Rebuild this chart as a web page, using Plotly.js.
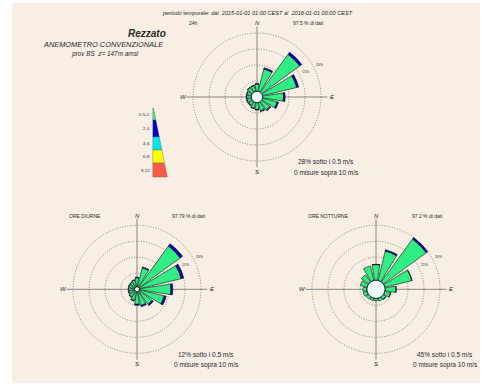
<!DOCTYPE html>
<html>
<head>
<meta charset="utf-8">
<script src="https://cdn.plot.ly/plotly-3.0.1.min.js"></script>
<style>html,body{margin:0;padding:0;background:#fff;}#chart{width:488px;height:387px;}</style>
</head>
<body>
<div id="chart"></div>
<script>
// ---------- DATA ----------
const sectorNames = ['N','NNE','NE','ENE','E','ESE','SE','SSE','S','SSW','SW','WSW','W','WNW','NW','NNW'];
const sectorDeg = [0,22.5,45,67.5,90,112.5,135,157.5,180,202.5,225,247.5,270,292.5,315,337.5];
const speedClasses = ['0.5-2','2-4','4-6','6-8','8-12'];
const classColors = ['#30ee84','#0000c0','#00e6f0','#ffff00','#f65c46'];

// rose 24h
const calm24 = 28;
const r24_c1 = [2.30,7.25,14.75,11.00,6.55,4.70,3.25,2.70,2.15,1.85,1.50,1.50,1.50,1.55,1.90,1.90];
const r24_c2 = [0.15,0.40,0.80,0.65,0.50,0.45,0.30,0.25,0.20,0.20,0.15,0.15,0.15,0.10,0.15,0.15];
// rose ore diurne
const calmDay = 12;
const rDay_c1 = [2.85,6.15,15.95,13.45,9.85,8.00,5.10,4.45,3.95,2.85,2.20,1.90,1.90,1.95,1.95,2.20];
const rDay_c2 = [0.20,0.30,0.90,0.80,0.60,0.65,0.45,0.40,0.30,0.20,0.15,0.15,0.15,0.10,0.10,0.15];
// rose ore notturne
const calmNight = 45;
const rNight_c1 = [4.90,9.50,16.60,8.70,3.45,1.85,1.05,0.95,0.80,0.80,0.95,1.30,1.30,2.20,2.80,4.70];
const rNight_c2 = [0.10,0.40,0.60,0.10,0.05,0.05,0.05,0,0,0,0,0,0,0,0,0];

const ringVals = [5,10,15,20];
const roseLabels = [
  {left:'24h', pct:'97.5 % di dati'},
  {left:'ORE DIURNE', pct:'97.79 % di dati'},
  {left:'ORE NOTTURNE', pct:'97.2 % di dati'}
];
const titleText = 'periodo temporale: dal  2015-01-01 01:00 CEST al  2016-01-01 00:00 CEST';
const stationName = 'Rezzato';
const sensorName = 'ANEMOMETRO CONVENZIONALE';
const locationText = 'prov BS  z= 147m amsl';

// ---------- LAYOUT HELPERS ----------
const W = 488, H = 387;
const px = x => x / W;
const py = y => 1 - y / H;
const R = 70.4;           // pixel radius of polar area
const RMAX = 22;          // radial range (%)
const FONT = 'Liberation Sans, Arial, sans-serif';
const TXT = '#2a2a2a';

const roses = [
  {cx:257, cy:97,    calm:calm24,   cls:[r24_c1, r24_c2]},
  {cx:137, cy:289.3, calm:calmDay,  cls:[rDay_c1, rDay_c2]},
  {cx:376, cy:289.3, calm:calmNight,cls:[rNight_c1, rNight_c2]}
];

const traces = [];
const layout = {
  width: W, height: H,
  margin: {l:0, r:0, t:0, b:0},
  paper_bgcolor: '#ffffff',
  showlegend: false,
  shapes: [], annotations: []
};

function ann(x, y, text, size, opts) {
  layout.annotations.push(Object.assign({
    xref:'paper', yref:'paper', x:px(x), y:py(y), text:text, showarrow:false,
    font:{family:FONT, size:size, color:TXT}, xanchor:'center', yanchor:'middle'
  }, opts || {}));
}

// background panel
layout.shapes.push({type:'rect', xref:'paper', yref:'paper', x0:px(12), x1:px(480), y0:py(383), y1:py(3),
  fillcolor:'#f9eee4', line:{width:0}, layer:'below'});

roses.forEach((ro, k) => {
  const pid = k === 0 ? 'polar' : 'polar' + (k + 1);
  layout[pid] = {
    domain: {x:[px(ro.cx - R), px(ro.cx + R)], y:[py(ro.cy + R), py(ro.cy - R)]},
    bgcolor: 'rgba(0,0,0,0)',
    barmode: 'overlay',
    radialaxis: {range:[0, RMAX], tickvals:ringVals, showticklabels:false, ticks:'', showline:false,
      gridcolor:'#6a6a6a', griddash:'1px,1.6px', gridwidth:0.8},
    angularaxis: {rotation:90, direction:'clockwise', tickvals:[0,90,180,270], showticklabels:false,
      ticks:'', showline:false, gridcolor:'#7a7a7a', gridwidth:0.9}
  };
  const calmBase = ro.calm / sectorDeg.length;
  let base = sectorDeg.map(() => calmBase);
  ro.cls.forEach((vals, ci) => {
    traces.push({
      type:'barpolar', subplot:pid, theta:sectorDeg, r:vals, base:base.slice(), width:18,
      marker:{color:classColors[ci], line:{color:'#111', width:0.6}}, hoverinfo:'skip'
    });
    base = base.map((b, i) => b + vals[i]);
  });
  // calm circle
  const th = [], rr = [];
  for (let a = 0; a <= 360; a += 5) { th.push(a); rr.push(calmBase); }
  traces.push({type:'scatterpolar', subplot:pid, mode:'lines', theta:th, r:rr, fill:'toself',
    fillcolor:'#effbfb', line:{color:'#111', width:1}, hoverinfo:'skip'});

  // direction labels
  ann(ro.cx, ro.cy - 73.5, '<i>N</i>', 6);
  ann(ro.cx, ro.cy + 75, '<i>S</i>', 6);
  ann(ro.cx - 74, ro.cy, '<i>W</i>', 6);
  ann(ro.cx + 75, ro.cy, '<i>E</i>', 6);
  // header labels
  ann(ro.cx - 70, ro.cy - 73.5, roseLabels[k].left, 5, {xanchor:'left'});
  ann(ro.cx + 51, ro.cy - 73.5, roseLabels[k].pct, 5);
  // bottom texts
  ann(ro.cx + 69, ro.cy + 64.7, ro.calm + '% sotto i 0.5 m/s', 6.5);
  ann(ro.cx + 69, ro.cy + 75.5, '0 misure sopra 10 m/s', 6.5);
  // ring labels (hidden where the ENE bar covers them)
  const eneTip = base[3];
  const pxPer = R / RMAX;
  ringVals.slice(1).forEach(v => {
    const rl = v * pxPer + 6.5;
    if (eneTip * pxPer < rl - 4) {
      const a = 63 * Math.PI / 180;
      ann(ro.cx + rl * Math.sin(a), ro.cy - rl * Math.cos(a), v + '%', 3.6);
    }
  });
});

// header texts
ann(257, 13, '<i>' + titleText + '</i>', 5.6);
ann(126, 33, '<b><i>' + stationName + '</i></b>', 10, {xanchor:'left'});
ann(41, 44, '<i>' + sensorName + '</i>', 7.4, {xanchor:'left'});
ann(69, 54, '<i>' + locationText + '</i>', 6.4, {xanchor:'left'});

// speed legend wedge
const wedgeTop = 108, wedgeBot = 177, xl = 152.8, xrTop = 153.5, xrBot = 167.3;
const bandEdges = [108, 120, 137, 150, 163, 177];
const xr = y => xrTop + (xrBot - xrTop) * (y - wedgeTop) / (wedgeBot - wedgeTop);
speedClasses.forEach((c, i) => {
  const y0 = bandEdges[i], y1 = bandEdges[i + 1];
  const path = 'M' + px(xl) + ',' + py(y0) + ' L' + px(xr(y0)) + ',' + py(y0) + ' L' + px(xr(y1)) + ',' + py(y1) +
               ' L' + px(xl) + ',' + py(y1) + ' Z';
  layout.shapes.push({type:'path', xref:'paper', yref:'paper', path:path, fillcolor:classColors[i],
    line:{color:'#666', width:0.4}});
  ann(151.5, (y0 + y1) / 2, c, 4.4, {xanchor:'right'});
});

Plotly.newPlot('chart', traces, layout, {staticPlot:true, displayModeBar:false});
</script>
</body>
</html>
